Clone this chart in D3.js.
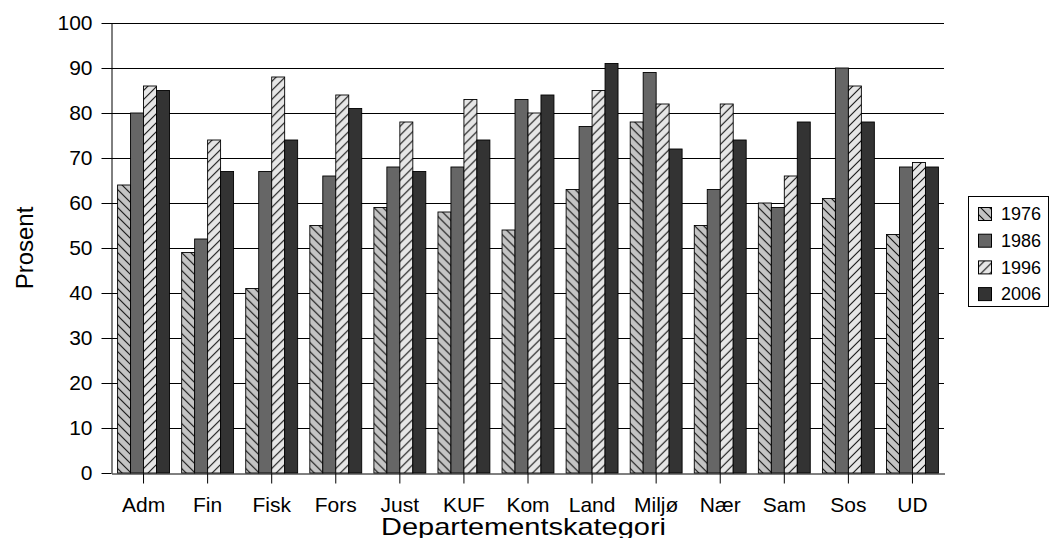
<!DOCTYPE html>
<html>
<head>
<meta charset="utf-8">
<script src="https://cdn.jsdelivr.net/npm/d3@7/dist/d3.min.js"></script>
<style>
  html, body { margin: 0; padding: 0; background: #fff; }
  svg { display: block; font-family: "Liberation Sans", Arial, sans-serif; }
</style>
</head>
<body>
<svg id="chart" width="1051" height="538"></svg>
<script>
// Departments and survey years
const categories = ["Adm", "Fin", "Fisk", "Fors", "Just", "KUF", "Kom", "Land", "Miljø", "Nær", "Sam", "Sos", "UD"];
const years = ["1976", "1986", "1996", "2006"];

// Percentage per department, one array per year
const v1976 = [64, 49, 41, 55, 59, 58, 54, 63, 78, 55, 60, 61, 53];
const v1986 = [80, 52, 67, 66, 68, 68, 83, 77, 89, 63, 59, 90, 68];
const v1996 = [86, 74, 88, 84, 78, 83, 80, 85, 82, 82, 66, 86, 69];
const v2006 = [85, 67, 74, 81, 67, 74, 84, 91, 72, 74, 78, 78, 68];

const yTicks = [0, 10, 20, 30, 40, 50, 60, 70, 80, 90, 100];

const seriesValues = [v1976, v1986, v1996, v2006];

const svg = d3.select("#chart");
const margin = { left: 111, right: 107, top: 23, bottom: 65 };
const W = 1051, H = 538;

// Hatch patterns for the light series
const defs = svg.append("defs");
function hatch(id, base, dir) {
  const p = defs.append("pattern")
    .attr("id", id)
    .attr("patternUnits", "userSpaceOnUse")
    .attr("width", 9).attr("height", 9);
  p.append("rect").attr("width", 9).attr("height", 9).attr("fill", base);
  const path = dir === "back"
    ? "M-1,-1 L10,10 M-1,8 L1,10 M8,-1 L10,1"
    : "M-1,10 L10,-1 M-1,1 L1,-1 M8,10 L10,8";
  p.append("path").attr("d", path).attr("stroke", "#111").attr("stroke-width", 1.1);
}
hatch("h1976", "#c4c4c4", "back");
hatch("h1996", "#e6e6e6", "fwd");

const fills = ["url(#h1976)", "#666666", "url(#h1996)", "#333333"];

const x0 = d3.scaleBand()
  .domain(categories)
  .range([margin.left, W - margin.right])
  .paddingInner(0.19)
  .paddingOuter(0.095);

const x1 = d3.scaleBand()
  .domain(years)
  .range([0, x0.bandwidth()]);

const y = d3.scaleLinear()
  .domain([0, 100])
  .range([H - margin.bottom, margin.top]);

// Gridlines
svg.append("g")
  .selectAll("line")
  .data(yTicks.filter(t => t > 0))
  .join("line")
  .attr("x1", margin.left)
  .attr("x2", W - margin.right)
  .attr("y1", d => Math.round(y(d)) + 0.5)
  .attr("y2", d => Math.round(y(d)) + 0.5)
  .attr("stroke", "#000")
  .attr("stroke-width", 1);

// Bars
const rows = categories.map((c, i) => ({ cat: c, vals: years.map((yr, k) => ({ year: yr, k, v: seriesValues[k][i] })) }));

svg.append("g")
  .selectAll("g")
  .data(rows)
  .join("g")
  .attr("transform", d => `translate(${x0(d.cat)},0)`)
  .selectAll("rect")
  .data(d => d.vals)
  .join("rect")
  .attr("x", d => x1(d.year) + 0.5)
  .attr("y", d => y(d.v))
  .attr("width", x1.bandwidth())
  .attr("height", d => y(0) - y(d.v))
  .attr("fill", d => fills[d.k])
  .attr("stroke", "#000")
  .attr("stroke-width", 0.9);

// Axes
const yAxis = d3.axisLeft(y)
  .tickValues(yTicks)
  .tickSize(10)
  .tickSizeOuter(0)
  .tickPadding(9);

const gy = svg.append("g")
  .attr("transform", `translate(${margin.left + 0.5},0)`)
  .call(yAxis);
gy.selectAll("text").attr("font-size", 21).attr("fill", "#000").attr("font-family", "Liberation Sans, Arial, sans-serif");
gy.selectAll("line, path").attr("stroke", "#000");

const xAxis = d3.axisBottom(x0)
  .tickSize(10)
  .tickSizeOuter(0)
  .tickPadding(14);

const gx = svg.append("g")
  .attr("transform", `translate(0.5,${Math.round(y(0)) + 0.5})`)
  .call(xAxis);
gx.selectAll("text").attr("font-size", 21).attr("fill", "#000").attr("font-family", "Liberation Sans, Arial, sans-serif");
gx.selectAll("line, path").attr("stroke", "#000");

// Axis titles
svg.append("text")
  .attr("x", 381)
  .attr("y", 535)
  .attr("font-size", 24)
  .attr("textLength", 285)
  .attr("lengthAdjust", "spacingAndGlyphs")
  .attr("fill", "#000")
  .text("Departementskategori");

svg.append("text")
  .attr("transform", `translate(33,${(y(0) + y(100)) / 2}) rotate(-90)`)
  .attr("text-anchor", "middle")
  .attr("font-size", 24)
  .attr("fill", "#000")
  .text("Prosent");

// Legend
const lg = svg.append("g");
lg.append("rect")
  .attr("x", 968.5).attr("y", 196.5)
  .attr("width", 80).attr("height", 110)
  .attr("fill", "#fff").attr("stroke", "#000");

const items = lg.selectAll("g.item")
  .data(years)
  .join("g")
  .attr("class", "item")
  .attr("transform", (d, i) => `translate(978,${214 + i * 26.7})`);

items.append("rect")
  .attr("x", 0.5).attr("y", -6.5)
  .attr("width", 13).attr("height", 13)
  .attr("fill", (d, i) => fills[i])
  .attr("stroke", "#000");

items.append("text")
  .attr("x", 23)
  .attr("y", 0)
  .attr("dy", "0.35em")
  .attr("font-size", 18)
  .attr("fill", "#000")
  .text(d => d);
</script>
</body>
</html>
